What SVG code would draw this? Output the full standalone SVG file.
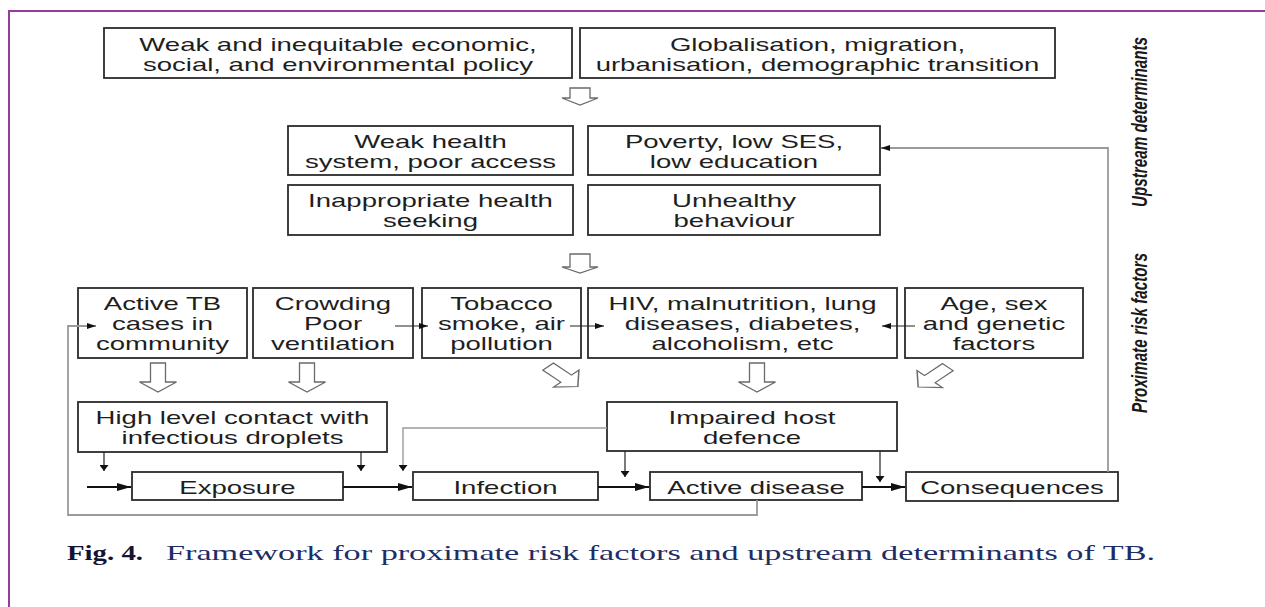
<svg xmlns="http://www.w3.org/2000/svg" width="1265" height="607" viewBox="0 0 1265 607">
<style>
.box{fill:#fff;stroke:#2b2b2b;stroke-width:1.8}
.t{font-family:"Liberation Sans",Arial,sans-serif;font-size:18px;fill:#1e1e1e;text-anchor:middle}
.hol{fill:#fff;stroke:#6a6a6a;stroke-width:1.3;stroke-linejoin:miter}
.ln{fill:none;stroke:#222;stroke-width:1.2}
.gl{fill:none;stroke:#9a9a9a;stroke-width:1.8}
.thick{fill:none;stroke:#111;stroke-width:2.2}
.side{font-family:"Liberation Sans",Arial,sans-serif;font-size:15px;font-weight:bold;font-style:italic;fill:#1a1a1a;text-anchor:middle}
</style>
<defs>
<marker id="ah" markerWidth="9" markerHeight="6" refX="9" refY="3" orient="auto" markerUnits="userSpaceOnUse"><path d="M0,0 L9,3 L0,6 Z" fill="#111"/></marker>
<marker id="ahb" markerWidth="14" markerHeight="8" refX="14" refY="4" orient="auto" markerUnits="userSpaceOnUse"><path d="M0,0 L14,4 L0,8 Z" fill="#111"/></marker>
<marker id="ahv" markerWidth="9" markerHeight="6" refX="4.5" refY="6" orient="0" markerUnits="userSpaceOnUse"><path d="M0,0 L9,0 L4.5,6 Z" fill="#111"/></marker>
<path id="diag" d="M-5,-14 L5,-14 L5,3 L12,3 L0,14 L-12,3 L-5,3 Z"/>
</defs>

<path d="M9,607 V11 H1265" fill="none" stroke="#9a3a9a" stroke-width="2"/>

<g id="n-policy"><rect class="box" x="104" y="28" width="468" height="50"/>
<text class="t" transform="translate(338,0) scale(1.53,1)"><tspan x="0" y="51.5">Weak and inequitable economic,</tspan><tspan x="0" y="71.5">social, and environmental policy</tspan></text></g>
<g id="n-global"><rect class="box" x="580" y="28" width="475" height="50"/>
<text class="t" transform="translate(817.5,0) scale(1.53,1)"><tspan x="0" y="51.5">Globalisation, migration,</tspan><tspan x="0" y="71.5">urbanisation, demographic transition</tspan></text></g>

<g id="n-health"><rect class="box" x="288" y="126" width="285" height="49"/>
<text class="t" transform="translate(430.5,0) scale(1.53,1)"><tspan x="0" y="148">Weak health</tspan><tspan x="0" y="168">system, poor access</tspan></text></g>
<g id="n-poverty"><rect class="box" x="588" y="126" width="292" height="49"/>
<text class="t" transform="translate(734,0) scale(1.53,1)"><tspan x="0" y="148">Poverty, low SES,</tspan><tspan x="0" y="168">low education</tspan></text></g>
<g id="n-seeking"><rect class="box" x="288" y="185" width="285" height="50"/>
<text class="t" transform="translate(430.5,0) scale(1.53,1)"><tspan x="0" y="207">Inappropriate health</tspan><tspan x="0" y="227">seeking</tspan></text></g>
<g id="n-behaviour"><rect class="box" x="588" y="185" width="292" height="50"/>
<text class="t" transform="translate(734,0) scale(1.53,1)"><tspan x="0" y="207">Unhealthy</tspan><tspan x="0" y="227">behaviour</tspan></text></g>

<g id="n-activetb"><rect class="box" x="78" y="288" width="169" height="70"/>
<text class="t" transform="translate(162.5,0) scale(1.53,1)"><tspan x="0" y="310.5">Active TB</tspan><tspan x="0" y="330.5">cases in</tspan><tspan x="0" y="350.5">community</tspan></text></g>
<g id="n-crowding"><rect class="box" x="253" y="288" width="160" height="70"/>
<text class="t" transform="translate(333,0) scale(1.53,1)"><tspan x="0" y="310.5">Crowding</tspan><tspan x="0" y="330.5">Poor</tspan><tspan x="0" y="350.5">ventilation</tspan></text></g>
<g id="n-tobacco"><rect class="box" x="422" y="288" width="159" height="70"/>
<text class="t" transform="translate(501.5,0) scale(1.53,1)"><tspan x="0" y="310.5">Tobacco</tspan><tspan x="0" y="330.5">smoke, air</tspan><tspan x="0" y="350.5">pollution</tspan></text></g>
<g id="n-hiv"><rect class="box" x="588" y="288" width="309" height="70"/>
<text class="t" transform="translate(742.5,0) scale(1.53,1)"><tspan x="0" y="310.5">HIV, malnutrition, lung</tspan><tspan x="0" y="330.5">diseases, diabetes,</tspan><tspan x="0" y="350.5">alcoholism, etc</tspan></text></g>
<g id="n-age"><rect class="box" x="905" y="288" width="178" height="70"/>
<text class="t" transform="translate(994,0) scale(1.53,1)"><tspan x="0" y="310.5">Age, sex</tspan><tspan x="0" y="330.5">and genetic</tspan><tspan x="0" y="350.5">factors</tspan></text></g>

<g id="n-contact"><rect class="box" x="78" y="402" width="309" height="50"/>
<text class="t" transform="translate(232.5,0) scale(1.53,1)"><tspan x="0" y="424">High level contact with</tspan><tspan x="0" y="444">infectious droplets</tspan></text></g>
<g id="n-impaired"><rect class="box" x="607" y="402" width="290" height="49"/>
<text class="t" transform="translate(752,0) scale(1.53,1)"><tspan x="0" y="424">Impaired host</tspan><tspan x="0" y="444">defence</tspan></text></g>

<g id="n-exposure"><rect class="box" x="132" y="472" width="211" height="28"/>
<text class="t" transform="translate(237.5,0) scale(1.53,1)" x="0" y="494">Exposure</text></g>
<g id="n-infection"><rect class="box" x="413" y="472" width="185" height="28"/>
<text class="t" transform="translate(505.5,0) scale(1.53,1)" x="0" y="494">Infection</text></g>
<g id="n-disease"><rect class="box" x="650" y="472" width="212" height="28"/>
<text class="t" transform="translate(756,0) scale(1.53,1)" x="0" y="494">Active disease</text></g>
<g id="n-consequences"><rect class="box" x="906" y="472" width="212" height="29"/>
<text class="t" transform="translate(1012,0) scale(1.53,1)" x="0" y="494">Consequences</text></g>

<g id="labels">
<text class="side" transform="translate(1139,122) scale(1.5,1) rotate(-90)" x="0" y="5" textLength="170" lengthAdjust="spacingAndGlyphs">Upstream determinants</text>
<text class="side" transform="translate(1139,333) scale(1.5,1) rotate(-90)" x="0" y="5" textLength="160" lengthAdjust="spacingAndGlyphs">Proximate risk factors</text>
</g>

<g id="connectors">
<path class="hol" d="M570,88 H590 V98 H598 L580,105 L562,98 H570 Z"/>
<path class="hol" d="M570,254 H590 V267 H598 L580,273 L562,267 H570 Z"/>
<path class="hol" d="M150.5,363 H165.5 V382 H176.5 L158,392 L139.5,382 H150.5 Z"/>
<path class="hol" d="M299.5,363 H314.5 V382 H325.5 L307,392 L288.5,382 H299.5 Z"/>
<path class="hol" d="M749.5,363 H764.5 V382 H775.5 L757,392 L738.5,382 H749.5 Z"/>
<use href="#diag" class="hol" transform="translate(563,376.5) scale(1.5,1) rotate(-45)" style="stroke-width:1"/>
<use href="#diag" class="hol" transform="translate(933,377) scale(1.5,1) rotate(45)" style="stroke-width:1"/>

<path class="thick" d="M87,487 H131" marker-end="url(#ahb)"/>
<path class="thick" d="M343,487 H412" marker-end="url(#ahb)"/>
<path class="thick" d="M598,487 H649" marker-end="url(#ahb)"/>
<path class="thick" d="M862,487 H905" marker-end="url(#ahb)"/>

<path class="ln" d="M104,452 V471" marker-end="url(#ahv)"/>
<path class="ln" d="M361,452 V471" marker-end="url(#ahv)"/>
<path class="gl" d="M607,428 H403 V471" style="stroke-width:1.4" marker-end="url(#ahv)"/>
<path class="ln" d="M625,451 V477" marker-end="url(#ahv)"/>
<path class="ln" d="M880,451 V482" marker-end="url(#ahv)"/>

<path class="gl" d="M757,500 V515 H68 V326 H96" marker-end="url(#ah)"/>
<path class="ln" d="M395,326 H428" marker-end="url(#ah)"/>
<path class="ln" d="M570,326 H604" marker-end="url(#ah)"/>
<path class="ln" d="M915,326 H882" marker-end="url(#ah)"/>
<path class="gl" d="M1108,472 V148 H881" marker-end="url(#ah)"/>
</g>

<g id="caption">
<text x="67" y="560" font-family="'Liberation Serif','Times New Roman',serif" font-size="22" font-weight="bold" fill="#141432" textLength="76" lengthAdjust="spacingAndGlyphs">Fig. 4.</text>
<text x="166" y="560" font-family="'Liberation Serif','Times New Roman',serif" font-size="22" fill="#1e2d66" textLength="989" lengthAdjust="spacingAndGlyphs">Framework for proximate risk factors and upstream determinants of TB.</text>
</g>
</svg>
